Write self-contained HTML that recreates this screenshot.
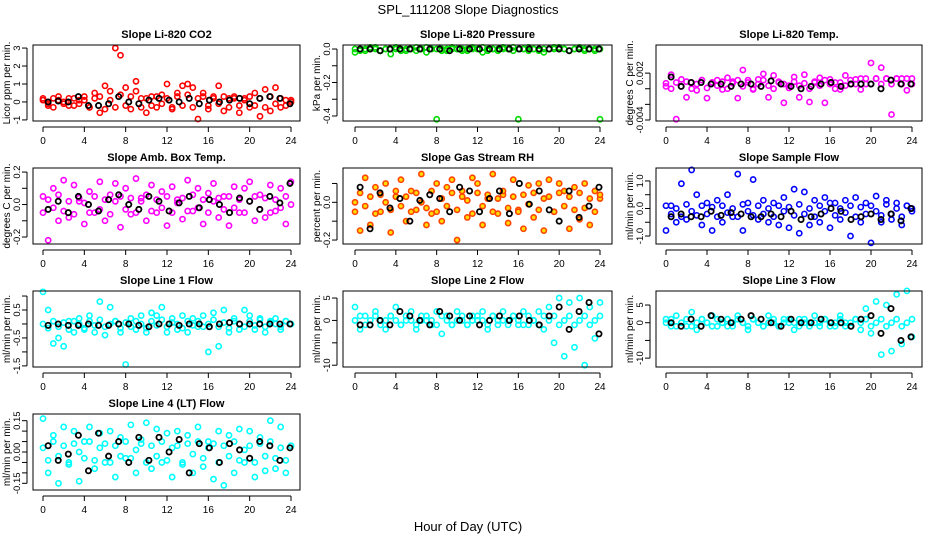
<!DOCTYPE html>
<html><head><meta charset="utf-8"><style>
body{margin:0;background:#fff;width:936px;height:540px;overflow:hidden}
svg text{font-family:"Liberation Sans",Arial,sans-serif}
</style></head><body>
<svg id="c" width="936" height="540">
<text x="468" y="14" font-size="13" text-anchor="middle">SPL_111208  Slope Diagnostics</text>
<text x="468" y="531" font-size="13" text-anchor="middle">Hour of Day (UTC)</text>
</svg>
<script>
const co2Vals=[0.1,-0.2,0.2,0.1,-0.1,0.2,-0.2,0.1,0.3,-0.3,0.5,-0.6,0.9,0.6,3.0,2.6,0.8,-0.4,1.15,0.2,-0.6,0.3,-0.3,0.4,1.0,-0.3,0.5,0.9,1.0,0.8,-0.95,0.5,-0.4,0.3,0.9,-0.5,0.2,0.3,-0.6,0.2,-0.3,0.5,-0.8,0.7,-0.5,0.8,-0.3,0.1,0.1];
const co2Band=[0.2,-0.1,-0.3,0.3,0,-0.2,0.2,-0.1,0.1,-0.3,0.2,0.3,-0.4,0.1,-0.3,0.4,-0.2,0.3,0.6,-0.3,0.2,-0.2,0.3,-0.1,0.2,-0.4,0.3,-0.2,0.4,-0.3,0.2,0.3,-0.2,0.2,-0.1,0.3,-0.3,0.2,-0.2,0.1,0.3,-0.2,0.2,-0.3,0.3,-0.1,0.2,-0.2,0];
const co2Black=[0,0.05,0,0.3,-0.2,-0.2,-0.1,0.3,0,-0.1,0.1,0.2,0.1,0,0.2,-0.1,0.1,0,0.1,0.2,-0.1,0.2,0.3,0.2,-0.1];
const presVals=[-0.02,0,-0.01,0,0.01,-0.01,0,-0.03,0,0,-0.01,0,0.01,0,-0.02,0,-0.42,0,-0.01,0,0,-0.01,0,0.01,0,-0.02,0,0,-0.01,0,0,0.01,-0.42,0,-0.01,0,0,-0.02,0,0,0.01,0,-0.01,0,0,-0.01,0,0,-0.42];
const presBand=[0,-0.01,0,0.01,0,-0.01,0,0,0.01,-0.01,0,0,-0.01,0,0.01,0,0,-0.01,0,0.01,0,0,-0.01,0,0,0.01,-0.01,0,0,0.01,0,-0.01,0,0,0.01,0,-0.01,0,0,0.01,0,0,-0.01,0,0.01,0,0,-0.01,0];
const presBlack=[0,0,-0.01,0,0,0,0,0,0,-0.01,0,0,0,0,0,0,0,0,0,0,0,-0.01,0,0,0];
const tempVals=[0.0003,0.0018,-0.0039,0.0012,-0.0011,0.0008,-0.0002,0.0011,-0.0012,0.0008,0.0011,-0.0001,0.0014,0.0009,-0.0012,0.0024,0.0011,-0.0001,0.0012,0.0019,-0.0011,0.0017,0.0009,-0.0018,0.0004,0.0015,-0.0011,0.0018,-0.0017,0.0009,0.0014,-0.0018,0.0012,0.0008,-0.0001,0.0017,0.0006,0.0012,-0.0001,0.0013,0.0033,0.0013,0.0027,0.0013,-0.0033,0.0013,0.0013,-0.0002,0.0013];
const tempBand=[0.0007,0.0,0.0008,0.0003,0.0009,0.0,0.0006,0.0011,0.0001,0.0008,0.0004,0.0009,0.0,0.0007,0.0011,0.0003,0.0008,0.0,0.0006,0.0011,0.0004,0.0,0.0008,0.0006,0.0001,0.0009,0.0004,0.0007,0.0,0.0008,0.0004,0.0011,0.0006,0.0,0.0008,0.0004,0.0011,0.0006,0.0013,0.0006,0.0006,0.0013,0.0006,0.0013,0.0006,0.0013,0.0006,0.0013,0.0006];
const tempBlack=[0.0015,0.0003,0.0008,0.0008,0.0006,0.0006,0.0003,0.0006,0.0006,0.0003,0.001,0.0006,0.0003,0.0,0.0003,0.0006,0.0008,0.0003,0.0006,0.0006,0.0006,0.0,0.0011,0.0006,0.0006];
const ambVals=[0.05,-0.22,0.1,-0.1,0.15,-0.08,0.12,0.02,-0.12,0.08,-0.05,0.14,-0.1,0.06,0.13,-0.14,0.1,-0.06,0.16,0.04,-0.1,0.12,-0.05,0.08,-0.13,0.11,0.03,-0.09,0.15,-0.04,0.1,-0.12,0.07,0.13,-0.08,0.05,-0.13,0.11,-0.05,0.1,0.14,-0.1,0.06,-0.08,0.12,-0.04,0.1,-0.12,0.14];
const ambBand=[-0.05,0.03,-0.02,0.06,-0.04,0.02,-0.06,0.04,0.01,-0.05,0.05,-0.03,0.03,-0.06,0.02,0.05,-0.03,0.04,-0.05,0.02,0.06,-0.04,0.03,-0.02,0.05,-0.05,0.01,0.04,-0.04,0.06,-0.02,0.03,-0.05,0.02,0.04,-0.03,0.05,-0.02,0.03,-0.05,0.02,0.05,-0.03,0.04,-0.05,0.03,-0.02,0.05,0.0];
const ambBlack=[-0.03,0.02,-0.05,0.05,0.0,-0.04,0.03,0.06,0.0,-0.03,0.05,0.02,-0.04,0.01,0.05,-0.02,0.03,0.0,-0.05,0.04,0.02,-0.03,0.05,0.01,0.13];
const rhVals=[0.0,-0.15,0.13,-0.12,0.08,-0.05,0.1,-0.16,0.03,0.12,-0.1,0.06,-0.04,0.15,-0.12,-0.06,0.1,-0.1,0.08,0.12,-0.2,0.06,-0.08,0.13,0.1,-0.12,0.02,0.15,-0.06,0.04,-0.11,0.12,-0.04,-0.14,0.09,-0.08,0.1,-0.15,0.12,-0.05,0.1,0.06,-0.14,0.08,-0.09,0.1,-0.12,0.06,0.02];
const rhBand=[-0.05,0.05,-0.02,0.03,-0.06,0.04,0.0,-0.04,0.06,-0.02,0.03,-0.05,0.05,0.0,-0.03,0.06,-0.05,0.02,-0.02,0.05,-0.04,0.03,0.01,-0.06,0.05,-0.02,0.04,-0.05,0.02,0.06,-0.03,0.03,-0.05,0.04,-0.01,0.05,-0.04,0.02,0.03,-0.05,0.05,-0.02,0.03,-0.04,0.05,-0.03,0.02,-0.05,0.04];
const rhBlack=[0.08,-0.14,0.05,-0.03,0.02,-0.1,0.01,0.04,0.02,-0.05,0.08,0.06,-0.05,0.02,0.06,-0.06,0.1,-0.01,0.06,-0.04,-0.1,0.06,-0.08,-0.02,0.08];
const sfVals=[-0.8,0.1,-0.5,0.9,-0.4,1.4,0.5,-0.6,0.2,-0.8,0.3,-0.5,0.5,-0.3,1.25,-0.8,0.2,1.05,-0.4,0.3,-0.5,0.2,-0.6,0.4,-0.7,0.7,-0.9,0.6,-0.6,0.3,-0.5,0.4,-0.7,0.2,-0.4,0.3,-1.0,0.4,-0.5,0.2,-1.25,0.45,-0.5,0.3,-0.4,0.2,-0.6,0.1,0.0];
const sfBand=[0.1,-0.2,0.0,-0.3,0.15,-0.1,-0.25,0.1,-0.2,0.05,-0.3,0.1,-0.15,0.0,-0.3,0.15,-0.1,-0.25,0.1,-0.2,0.0,-0.3,0.1,-0.1,0.05,-0.25,0.15,-0.2,0.0,-0.3,0.1,-0.1,0.2,-0.25,0.0,-0.15,0.1,-0.3,0.05,-0.2,0.1,-0.1,-0.25,0.15,-0.2,0.0,-0.3,0.1,-0.1];
const sfBlack=[-0.3,-0.2,-0.3,-0.3,-0.1,-0.25,-0.15,-0.2,-0.3,-0.3,-0.2,-0.3,-0.1,-0.4,-0.3,-0.2,0.0,-0.1,-0.4,-0.3,-0.2,-0.4,-0.2,-0.45,0.0];
const l1Vals=[1.15,0.5,-0.7,-0.5,-0.8,0.1,-0.3,0.2,-0.2,0.3,-0.3,0.8,-0.4,0.6,0.1,-0.3,-1.45,0.2,-0.2,0.3,-0.3,0.4,0.3,0.6,-0.3,0.2,-0.2,0.3,-0.3,0.2,-0.1,0.3,-1.0,0.4,-0.8,0.5,-0.3,0.2,-0.2,0.5,0.3,-0.2,0.2,-0.3,0.1,0.2,-0.2,0.1,0.0];
const l1Band=[0.0,-0.15,0.1,-0.1,0.05,-0.2,0.1,0.0,-0.15,0.1,-0.05,0.15,-0.1,0.0,0.1,-0.15,0.05,-0.1,0.1,0.0,-0.15,0.1,-0.05,0.15,-0.1,0.05,0.0,-0.15,0.1,-0.05,0.1,-0.1,0.0,0.15,-0.1,0.05,-0.15,0.1,0.0,-0.1,0.1,-0.05,0.15,-0.1,0.05,0.0,-0.1,0.1,0.0];
const l1Black=[-0.05,0.0,-0.05,-0.05,0.0,-0.05,-0.05,0.0,0.0,-0.05,-0.1,0.0,0.0,-0.05,0.0,0.0,-0.1,0.0,0.05,0.0,0.0,0.0,0.0,0.0,0.0];
const l2Vals=[3,-2,1,-1,2,0,-2,1,3,-1,0,2,-2,1,0,-1,2,-3,1,-1,2,0,-1,1,0,2,-2,1,-1,2,0,1,-1,2,-1,0,2,-2,3,-5,5,-8,4,-6,5,-10,3,-4,4];
const l2Band=[0,1,-1,0,1,-1,0,1,0,-1,1,0,-1,0,1,0,-1,1,0,-1,0,1,-1,0,1,0,-1,1,0,0,-1,1,0,-1,1,0,-1,1,0,1,-1,0,1,-1,0,1,-1,0,1];
const l2Black=[-1,-1,0,-1,2,1,0,-1,2,1,0,1,-1,0,1,0,1,0,-1,1,3,-2,2,4,-3];
const l3Vals=[1,-1,2,0,-1,3,-2,1,0,2,-1,0,1,-1,2,0,-2,1,0,-1,2,0,-1,1,0,-2,1,0,-1,2,0,1,-1,0,2,-1,0,1,-2,4,-3,6,-9,5,-8,8,-6,9,-4];
const l3Band=[0,1,-1,0,1,-1,0,1,0,-1,1,0,-1,0,1,0,-1,1,0,-1,0,1,-1,0,1,0,-1,1,0,0,-1,1,0,-1,1,0,-1,1,0,1,-1,0,1,-1,0,1,-1,0,1];
const l3Black=[0,-1,1,-1,2,1,0,1,2,1,0,-1,1,0,0,1,0,0,-1,1,2,-3,4,-5,-4];
const l4Vals=[0.16,-0.1,0.08,-0.15,0.12,-0.06,0.1,-0.14,0.05,0.12,-0.08,0.09,-0.05,0.1,-0.12,0.07,-0.03,0.13,-0.1,0.06,0.14,-0.08,0.11,-0.05,0.09,-0.12,0.1,-0.06,0.08,-0.1,0.12,-0.07,0.05,-0.13,0.1,-0.16,0.08,-0.1,0.11,-0.05,0.1,-0.12,0.07,-0.09,0.15,-0.08,0.12,-0.1,0.03];
const l4Band=[0.02,-0.04,0.05,-0.02,0.03,-0.05,0.04,0.0,-0.03,0.05,-0.04,0.02,0.04,-0.05,0.03,-0.02,0.05,-0.03,0.01,0.04,-0.05,0.03,-0.02,0.05,-0.04,0.02,0.03,-0.05,0.04,-0.01,0.05,-0.03,0.02,0.04,-0.05,0.03,-0.02,0.05,-0.04,0.01,0.03,-0.05,0.04,-0.02,0.05,-0.03,0.02,-0.04,0.03];
const l4Black=[0.03,-0.04,-0.01,0.08,-0.09,0.09,-0.02,0.05,-0.05,0.07,-0.04,0.07,0.0,0.06,-0.1,0.04,0.02,-0.05,0.04,0.01,-0.03,0.05,0.03,-0.04,0.02];
const hourTicks=[0,4,8,12,16,20,24];
const panels=[
 {name:'co2',title:'Slope Li-820 CO2',yl:'Licor ppm per min.',col:0,row:0,ymin:-1.06,ymax:3.17,ticks:[-1,0,1,2,3],labels:['-1','0','1','2','3'],c:'#ff0000',f:'none',v:[co2Vals,co2Band],b:co2Black},
 {name:'pressure',title:'Slope Li-820 Pressure',yl:'kPa per min.',col:1,row:0,ymin:-0.43,ymax:0.024,ticks:[-0.4,-0.3,-0.2,-0.1,0],labels:['-0.4','','-0.2','','0.0'],c:'#00dd00',f:'none',v:[presVals,presBand],b:presBlack},
 {name:'temp',title:'Slope Li-820 Temp.',yl:'degrees C per min.',col:2,row:0,ymin:-0.00413,ymax:0.0056,ticks:[-0.004,-0.002,0,0.002],labels:['-0.004','','','0.002'],c:'#ff00ff',f:'none',v:[tempVals,tempBand],b:tempBlack},
 {name:'amb-box-temp',title:'Slope Amb. Box Temp.',yl:'degrees C per min.',col:0,row:1,ymin:-0.243,ymax:0.225,ticks:[-0.2,-0.1,0,0.1,0.2],labels:['-0.2','','0.0','','0.2'],c:'#ff00ff',f:'none',v:[ambVals,ambBand],b:ambBlack},
 {name:'gas-rh',title:'Slope Gas Stream RH',yl:'percent per min.',col:1,row:1,ymin:-0.221,ymax:0.182,ticks:[-0.2,-0.1,0,0.1],labels:['-0.2','','0.0',''],c:'#ff4400',f:'#ffdd00',v:[rhVals,rhBand],b:rhBlack},
 {name:'sample-flow',title:'Slope Sample Flow',yl:'ml/min per min.',col:2,row:1,ymin:-1.29,ymax:1.47,ticks:[-1,-0.5,0,0.5,1],labels:['-1.0','','0.0','','1.0'],c:'#0000ff',f:'none',v:[sfVals,sfBand],b:sfBlack},
 {name:'line1-flow',title:'Slope Line 1 Flow',yl:'ml/min per min.',col:0,row:2,ymin:-1.54,ymax:1.18,ticks:[-1.5,-1,-0.5,0,0.5,1],labels:['-1.5','','-0.5','','0.5',''],c:'#00ffff',f:'none',v:[l1Vals,l1Band],b:l1Black},
 {name:'line2-flow',title:'Slope Line 2 Flow',yl:'ml/min per min.',col:1,row:2,ymin:-10.4,ymax:6.57,ticks:[-10,-5,0,5],labels:['-10','','0','5'],c:'#00ffff',f:'none',v:[l2Vals,l2Band],b:l2Black},
 {name:'line3-flow',title:'Slope Line 3 Flow',yl:'ml/min per min.',col:2,row:2,ymin:-12.5,ymax:8.96,ticks:[-10,-5,0,5],labels:['-10','','0','5'],c:'#00ffff',f:'none',v:[l3Vals,l3Band],b:l3Black},
 {name:'line4-flow',title:'Slope Line 4 (LT) Flow',yl:'ml/min per min.',col:0,row:3,ymin:-0.182,ymax:0.182,ticks:[-0.15,-0.1,-0.05,0,0.05,0.1,0.15],labels:['-0.15','','','0.00','','','0.15'],c:'#00ffff',f:'none',v:[l4Vals,l4Band],b:l4Black}
];
const colX=[[33,300,43,291],[343,612,355,600],[656,922,666,912]];
const rowY=[45,168,291,414];
const H=76;
const svg=document.getElementById('c');
const NS='http://www.w3.org/2000/svg';
function mk(t,a,p){const e=document.createElementNS(NS,t);for(const k in a)e.setAttribute(k,a[k]);(p||svg).appendChild(e);return e;}
panels.forEach(p=>{
 const [bl,br,x0,x24]=colX[p.col];const top=rowY[p.row],bot=top+H;
 const xs=h=>x0+(x24-x0)*h/24;
 const ys=v=>bot-(v-p.ymin)/(p.ymax-p.ymin)*H;
 const g=mk('g',{});
 
 
 const t=mk('text',{x:(bl+br)/2,y:top-7,'font-size':11,'font-weight':'bold','text-anchor':'middle'},g);t.textContent=p.title;
 
 
 const yl=mk('text',{x:0,y:0,'font-size':10,'text-anchor':'middle',transform:`translate(${bl-23},${top+H/2}) rotate(-90)`},g);yl.textContent=p.yl;
 
 
 const pg=mk('g',{},g);
 
 
 p.v.forEach(arr=>arr.forEach((v,i)=>{const h=i*24/(arr.length-1);
  const c=mk('circle',{cx:xs(h),cy:ys(v),r:2.6,fill:p.f,stroke:p.c,'stroke-width':1.6},pg);
  
  }));
 const bg=mk('g',{},g);
 
 
 p.b.forEach((v,i)=>{const h=0.5+i*23.4/(p.b.length-1);
  const c=mk('circle',{cx:xs(h),cy:ys(v),r:2.6,fill:'none',stroke:'#000','stroke-width':1.8},bg);
  
  });
 const box=mk('rect',{x:bl,y:top,width:br-bl,height:H,fill:'none',stroke:'#000','stroke-width':1},g);
 
 
 mk('line',{x1:x0,x2:x24,y1:bot+6,y2:bot+6,stroke:'#000'},g);
 hourTicks.forEach(h=>{mk('line',{x1:xs(h),x2:xs(h),y1:bot+6,y2:bot+11,stroke:'#000'},g);
  const tl=mk('text',{x:xs(h),y:bot+23,'font-size':10,'text-anchor':'middle'},g);tl.textContent=h;
  
  });
 mk('line',{x1:bl-6,x2:bl-6,y1:ys(p.ticks[0]),y2:ys(p.ticks[p.ticks.length-1]),stroke:'#000'},g);
 p.ticks.forEach((v,i)=>{const y=ys(v);mk('line',{x1:bl-11,x2:bl-6,y1:y,y2:y,stroke:'#000'},g);
  if(p.labels[i]){const tl=mk('text',{x:0,y:0,'font-size':9.5,'text-anchor':'middle',transform:`translate(${bl-13},${y}) rotate(-90)`},g);tl.textContent=p.labels[i];
  
  }});
});
</script>
</body></html>
